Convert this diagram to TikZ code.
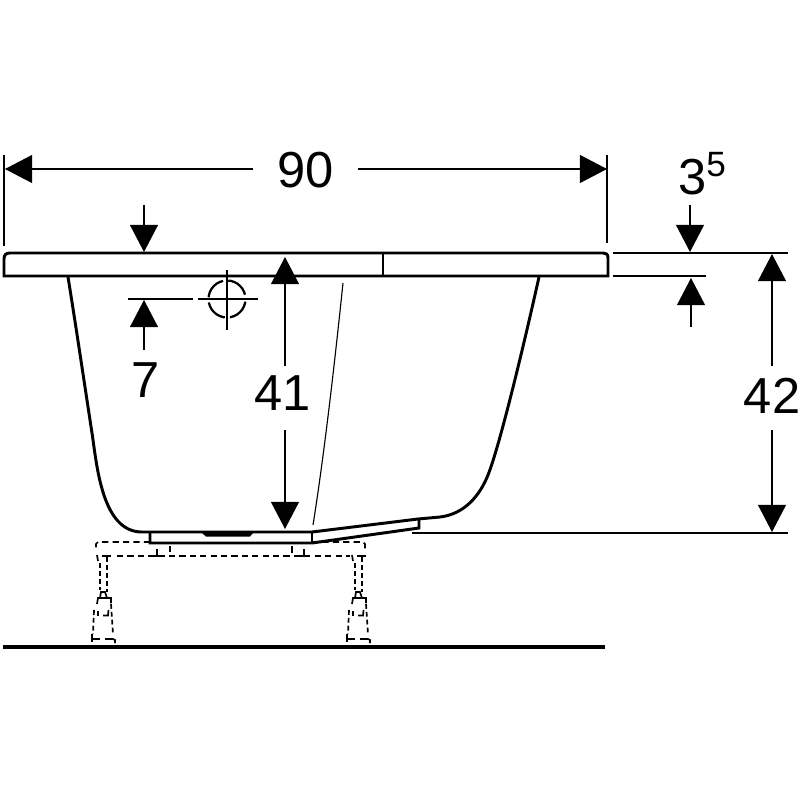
\documentclass[tikz,border=0pt]{standalone}
\usepackage{fontspec}
\setmainfont{Liberation Sans}
\usetikzlibrary{arrows.meta}
\tikzstyle{dimText} = [inner sep=0pt, font=\fontsize{36}{40}\selectfont]
\tikzstyle{line} = [draw, line width=1pt]
\tikzstyle{dimLine} = [draw, line width=1pt, -{Triangle[length=0.68cm,width=0.7cm]}]
\tikzstyle{tub} = [draw, line width=2.1pt, line join=miter]
\tikzstyle{thinTub} = [draw, line width=0.8pt]
\tikzstyle{hidden} = [draw, line width=1.2pt, dash pattern=on 4.4pt off 3pt]
\tikzstyle{hiddenLeg} = [draw, line width=1.2pt, dash pattern=on 3.4pt off 2.2pt]
\tikzstyle{detail} = [draw, line width=1.2pt]

\begin{document}
\begin{tikzpicture}[x=0.025cm,y=-0.025cm]
   \useasboundingbox (0,0) rectangle (800,800);

   %% Labels
   \node[dimText] (w90) at (306,170) {90};
   \node[dimText] (h41) at (283,393) {41};
   \node[dimText] (h42) at (772,396) {42};
   \node[dimText] (d7)  at (146,380) {7};
   \node[dimText] (t35) at (702,174) {3\raisebox{13pt}{\fontsize{25}{25}\selectfont 5}};

   %% Tub
   \path[tub] (4,276) -- (270,276);
   \path[tub] (300,276) -- (608,276) -- (608,258)
      .. controls (608,254) and (606,253) .. (603,253) -- (10,253)
      .. controls (6,253) and (4,255) .. (4,259) -- (4,276) -- cycle;
   \path[thinTub] (383,253) -- (383,276);
   \path[tub] (68,277) .. controls (75,320) and (86,394) .. (92,433)
      .. controls (97,466) and (102,532) .. (142,532)
      -- (312,532) -- (418,519) -- (440,517)
      .. controls (465,514) and (480,495) .. (488,475)
      .. controls (500,445) and (525,340) .. (539,277);
   \path[tub] (150,532) -- (150,543) -- (312,543) -- (419,528) -- (419,519);
   \path[thinTub] (312,532) -- (312,543);
   \path[thinTub] (343,283) .. controls (336,350) and (325,450) .. (313,525);
   \fill (202,533) -- (253,533) -- (250,536.5) -- (206,536.5) -- cycle;

   %% Outlet
   \coordinate (outlet) at (227,299);
   \path[line] (128,299) -- (193,299);
   \path[line] (198,299) -- (258,299);
   \path[line] (227,270) -- (227,330);
   \draw[line width=1.6pt, dash pattern=on 16.6pt off 3.7pt, dash phase=18.4pt] (outlet) circle (18.5);

   %% Dimension 90
   \coordinate (extL) at (4,155);
   \coordinate (extLb) at (4,246);
   \coordinate (extR) at (607,155);
   \coordinate (extRb) at (607,243);
   \coordinate (w90L) at (5,169);
   \coordinate (w90Lb) at (253,169);
   \coordinate (w90R) at (607,169);
   \coordinate (w90Rb) at (358,169);
   \path[line] (extL) -- (extLb);
   \path[line] (extR) -- (extRb);
   \path[dimLine] (w90Lb) -- (w90L);
   \path[dimLine] (w90Rb) -- (w90R);

   %% Arrows on the rim and the outlet
   \coordinate (rimS) at (144,205);
   \coordinate (rimE) at (144,252);
   \coordinate (d7S) at (144,350);
   \coordinate (d7E) at (144,300);
   \path[dimLine] (rimS) -- (rimE);
   \path[dimLine] (d7S) -- (d7E);

   %% Dimension 41
   \coordinate (h41T) at (285,366);
   \coordinate (h41Te) at (285,257);
   \coordinate (h41B) at (285,430);
   \coordinate (h41Be) at (285,529);
   \path[dimLine] (h41T) -- (h41Te);
   \path[dimLine] (h41B) -- (h41Be);

   %% Dimension 3,5
   \coordinate (rimTopL) at (613,253);
   \coordinate (rimTopR) at (788,253);
   \coordinate (rimBotL) at (613,276);
   \coordinate (rimBotR) at (706,276);
   \coordinate (t35S) at (690,205);
   \coordinate (t35E) at (690,252);
   \coordinate (t35uS) at (691,327);
   \coordinate (t35uE) at (691,278);
   \path[line] (rimTopL) -- (rimTopR);
   \path[line] (rimBotL) -- (rimBotR);
   \path[dimLine] (t35S) -- (t35E);
   \path[dimLine] (t35uS) -- (t35uE);

   %% Dimension 42
   \coordinate (h42T) at (772,366);
   \coordinate (h42Te) at (772,254);
   \coordinate (h42B) at (772,430);
   \coordinate (h42Be) at (772,532);
   \coordinate (baseL) at (412,533);
   \coordinate (baseR) at (788,533);
   \path[line] (baseL) -- (baseR);
   \path[dimLine] (h42T) -- (h42Te);
   \path[dimLine] (h42B) -- (h42Be);

   %% Frame
   \path[hidden] (150,542) -- (98,542) -- (96,544) -- (96,551);
   \path[hidden] (312,542) -- (363,542) -- (365,544) -- (365,551);
   \path[hidden] (117,556) -- (350,556);
   \path[detail] (157,549) -- (157,556);
   \path[detail] (153,556) -- (162,556);
   \path[detail] (170,546) -- (170,552);
   \path[detail] (292,546) -- (292,553);
   \path[detail] (304,549) -- (304,556);
   \path[detail] (300,556) -- (309,556);

   %% Left leg
   \path[detail] (97,555) -- (98,561);
   \path[detail] (102,556) -- (111,556);
   \path[detail] (107,556) -- (107,562);
   \path[hiddenLeg] (100,563) -- (100,590);
   \path[hiddenLeg] (107,565) -- (107,592);
   \path[detail] (97,604) -- (98,598) -- (111,598) -- (111,603);
   \path[detail] (100,598) -- (101,592) -- (105,592) -- (107,598);
   \path[hiddenLeg] (111,604) -- (113,634);
   \path[hiddenLeg] (94,610) -- (93,634);
   \path[detail] (98,611) -- (98,616);
   \path[detail] (103,615.5) -- (108,615.5) -- (108.5,610);
   \path[detail] (92,634) -- (92,642);
   \path[detail] (92,639) -- (100,639);
   \path[detail] (105,639) -- (113,639) -- (115,640) -- (115,643);

   %% Right leg
   \path[detail] (352,555) -- (353,561);
   \path[detail] (357,556) -- (366,556);
   \path[detail] (362,556) -- (362,562);
   \path[hiddenLeg] (355,563) -- (355,590);
   \path[hiddenLeg] (362,565) -- (362,592);
   \path[detail] (352,604) -- (353,598) -- (366,598) -- (366,603);
   \path[detail] (355,598) -- (356,592) -- (360,592) -- (362,598);
   \path[hiddenLeg] (366,604) -- (368,634);
   \path[hiddenLeg] (349,610) -- (348,634);
   \path[detail] (353,611) -- (353,616);
   \path[detail] (358,615.5) -- (363,615.5) -- (363.5,610);
   \path[detail] (347,634) -- (347,642);
   \path[detail] (347,639) -- (355,639);
   \path[detail] (360,639) -- (368,639) -- (370,640) -- (370,643);

   %% Floor
   \draw[line width=2.2pt] (3,647) -- (605,647);

\end{tikzpicture}
\end{document}
